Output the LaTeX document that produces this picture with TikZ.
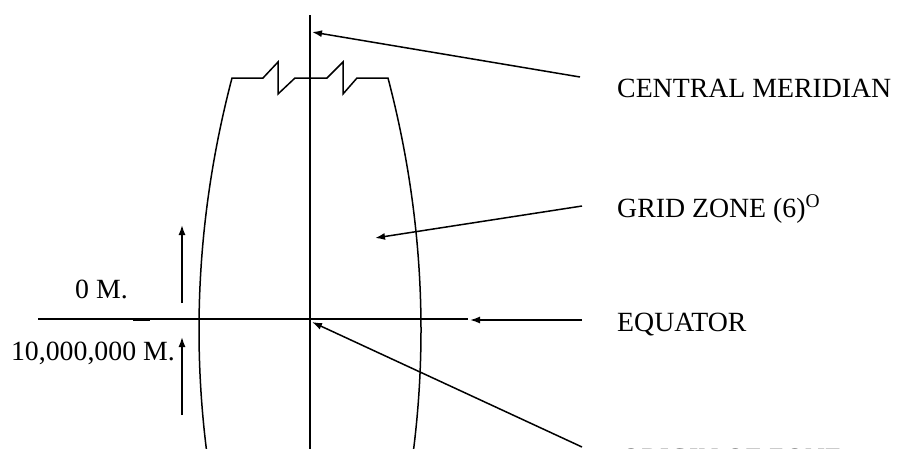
\documentclass[tikz,border=0pt]{standalone}
\usepackage{fontspec}
\setmainfont{Liberation Serif}
\usetikzlibrary{arrows.meta, positioning, calc}

\tikzset{
    zoneline/.style={line width=1.5pt, line join=miter},
    pointer/.style={line width=1.5pt, -{Latex[length=10pt, width=7pt]}},
    tag/.style={font=\fontsize{27.8}{33}\selectfont, inner sep=0pt, anchor=base west}
}

\begin{document}
\begin{tikzpicture}[x=1pt, y=-1pt]
    \useasboundingbox (0,0) rectangle (899,448);
    \clip (0,0) rectangle (899,448);

    % labels
    \node[tag] (meridian) at (617,97) {CENTRAL MERIDIAN};
    \node[tag] (gridzone) at (617,217) {GRID ZONE (6)\textsuperscript{O}};
    \node[tag] (equator) at (617,331) {EQUATOR};
    \node[tag] (origin) at (621,467) {ORIGIN OF ZONE};
    \node[tag] (zerom) at (75,298) {0 M.};
    \node[tag, anchor=base east] (tenmill) at (175,360) {10,000,000 M.};

    % points on the zone
    \coordinate (mtop) at (310,15);
    \coordinate (mbot) at (310,460);
    \coordinate (cmtip) at (312,32);
    \coordinate (gztip) at (375,238);
    \coordinate (eqwest) at (38,319);
    \coordinate (eqeast) at (468,319);
    \coordinate (eqtip) at (470,320);
    \coordinate (ortip) at (312,322);

    % starts of the pointers
    \coordinate (cmfrom) at (580,77);
    \coordinate (gzfrom) at (582,206);
    \coordinate (eqfrom) at (582,320);
    \coordinate (orfrom) at (582,447);

    % zone outline, broken at the top
    \draw[zoneline] (232,582) .. controls (188,414) and (188,246) .. (232,78)
        -- (263,78) -- (278,62) -- (278,94) -- (295,78) -- (327,78)
        -- (343,62) -- (343,94) -- (357,78) -- (388,78)
        .. controls (432,246) and (432,414) .. (388,582);

    % meridian and equator
    \draw[line width=2pt] (mtop) -- (mbot);
    \draw[zoneline] (eqwest) -- (eqeast);
    \draw[line width=3pt] (133,319) -- (150,319);

    % northing arrows
    \draw[pointer] (182,303) -- (182,225);
    \draw[pointer] (182,415) -- (182,337);

    % pointers to the labels
    \draw[pointer] (cmfrom) -- (cmtip);
    \draw[pointer] (gzfrom) -- (gztip);
    \draw[pointer] (eqfrom) -- (eqtip);
    \draw[pointer] (orfrom) -- (ortip);
\end{tikzpicture}
\end{document}
